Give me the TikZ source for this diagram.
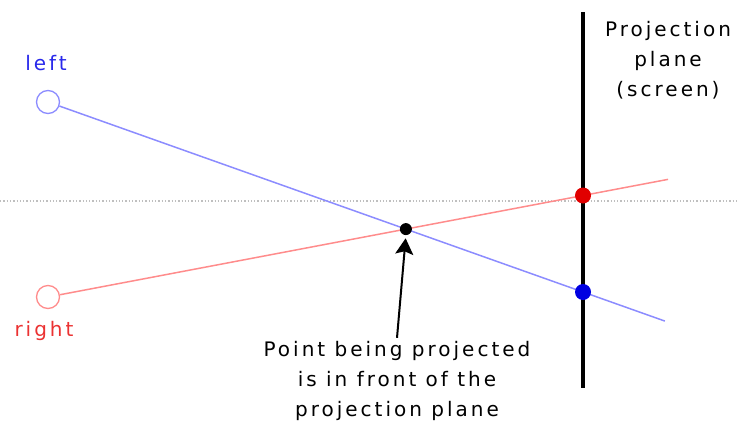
\documentclass[tikz,border=0pt]{standalone}
\usepackage{fontspec}
\setmainfont{DejaVu Sans}[LetterSpace=15]
\usepackage{xcolor}
\usepackage{tikz}
\usetikzlibrary{arrows.meta, positioning, calc, intersections}
\definecolor{rayblue}{RGB}{140,140,255}
\definecolor{rayred}{RGB}{255,140,140}
\definecolor{labelblue}{RGB}{40,40,235}
\definecolor{labelred}{RGB}{235,50,50}
\definecolor{hitblue}{RGB}{0,0,225}
\definecolor{hitred}{RGB}{225,0,0}
\tikzstyle{eye} = [circle, draw, fill=white, line width=1.3pt, minimum size=23pt, inner sep=0pt]
\tikzstyle{hit} = [circle, minimum size=16pt, inner sep=0pt]
\tikzstyle{ray} = [line width=1.5pt]
\tikzstyle{label} = [font=\fontsize{20}{30}\selectfont, align=center]
\tikzstyle{pointer} = [line width=2pt, -{Stealth[length=16pt,width=18pt,inset=3pt]}]

\begin{document}
\begin{tikzpicture}[x=1pt, y=-1pt]
\useasboundingbox (0,0) rectangle (738,423);

% eye line
\draw[gray!50, line width=1.3pt, dotted] (0,201) -- (738,201);

\node[eye, draw=rayblue] (lefteye) at (48,102) {};
\node[eye, draw=rayred] (righteye) at (48,297) {};
\node[label, text=labelblue] (leftlabel) at (46,63) {left};
\node[label, text=labelred] (rightlabel) at (44,331) {right};

% screen
\coordinate (screentop) at (583,12);
\coordinate (screenbot) at (583,388);
\draw[line width=3.5pt] (screentop) -- (screenbot);
\node[label] (screenlabel) at (668,60) {Projection\\plane\\(screen)};

% rays
\coordinate (bluehit) at (583,292);
\coordinate (redhit) at (583,195.5);
\coordinate (blueend) at ($(lefteye)!1.153!(bluehit)$);
\coordinate (redend) at ($(righteye)!1.159!(redhit)$);
\draw[ray, rayblue, name path=bluepath] (lefteye) -- (blueend);
\draw[ray, rayred, name path=redpath] (righteye) -- (redend);
\path[name intersections={of=bluepath and redpath, by=cross}];

\node[hit, fill=hitred] (reddot) at (redhit) {};
\node[hit, fill=hitblue] (bluedot) at (bluehit) {};
\node[hit, fill=black, minimum size=12pt] (point) at (cross) {};

\node[label] (caption) at (397,381) {Point being projected\\is in front of the\\projection plane};
\draw[pointer, shorten >=3pt] (caption.north) -- (point.south);
\end{tikzpicture}
\end{document}
